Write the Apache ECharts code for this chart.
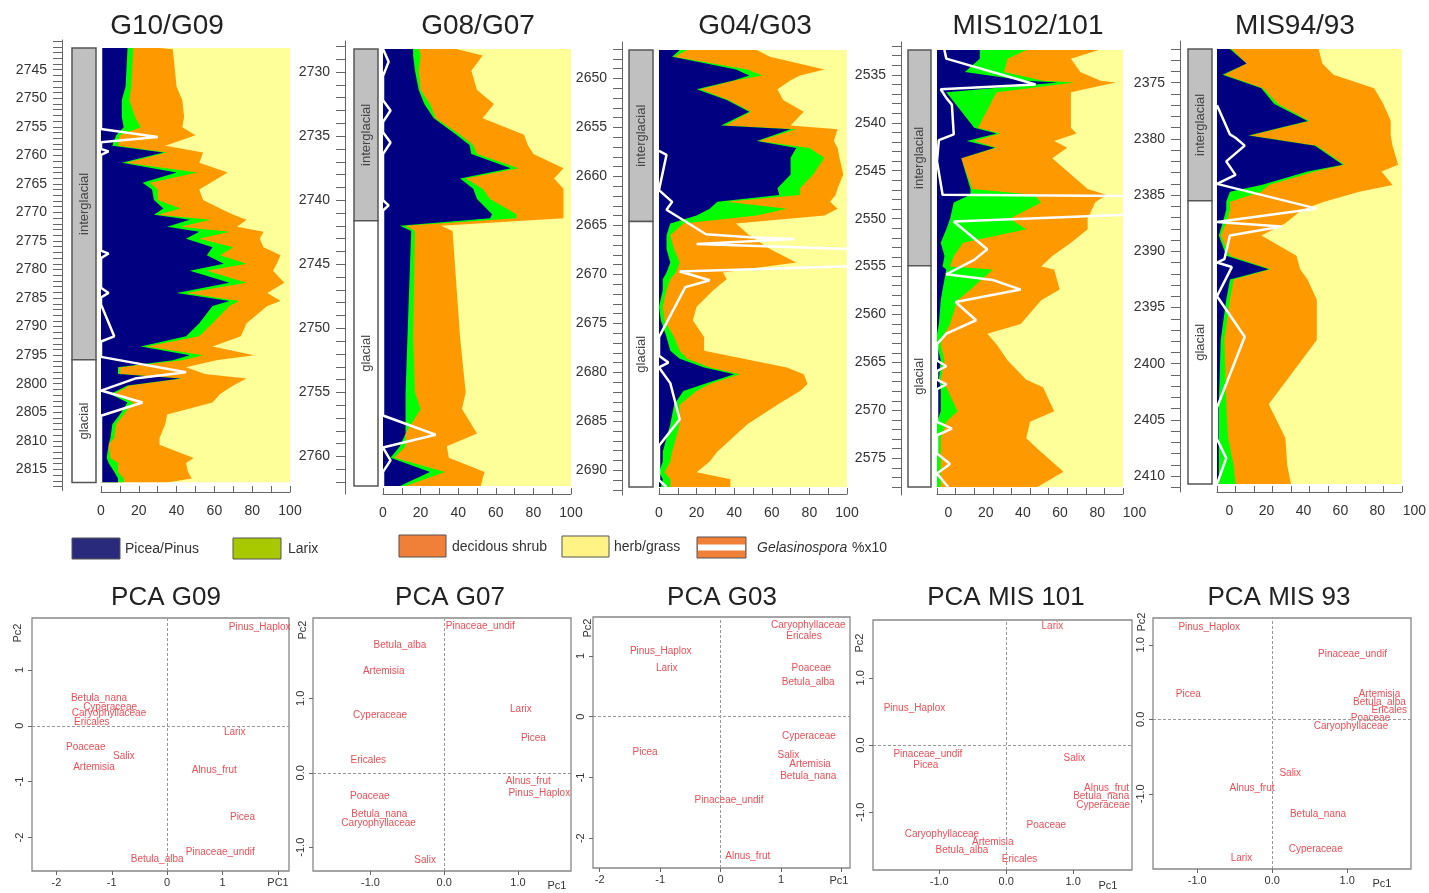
<!DOCTYPE html>
<html>
<head>
<meta charset="utf-8">
<title>Pollen diagrams and PCA</title>
<script src="https://cdn.jsdelivr.net/npm/echarts@6.0.0/dist/echarts.min.js"></script>
<style>
  html, body { margin: 0; padding: 0; background: #fff; }
  #main { width: 1429px; height: 893px; }
</style>
</head>
<body>
<div id="main"></div>
<script>
// stacked edges: Picea/Pinus, +Larix, +decidous shrub (cumulative %)
const g09Depth = [2741.2, 2741.4, 2748.0, 2750.3, 2753.3, 2755.1, 2756.5, 2758.3, 2759.5, 2761.3, 2763.0, 2764.8, 2766.0, 2767.8, 2769.3, 2770.4, 2771.3, 2772.5, 2773.4, 2774.6, 2776.1, 2777.5, 2779.0, 2780.2, 2782.3, 2784.1, 2785.5, 2786.4, 2789.4, 2791.7, 2793.5, 2795.0, 2795.9, 2797.1, 2798.3, 2799.1, 2800.3, 2801.8, 2803.3, 2805.4, 2807.1, 2809.5, 2810.7, 2813.0, 2813.9, 2815.4, 2816.6, 2817.3]
const g09Picea = [14, 14, 13, 11, 11, 12, 8, 6, 33, 11, 40, 22, 27, 28, 33, 28, 47, 35, 52, 45, 59, 56, 65, 47, 68, 40, 68, 59, 52, 45, 21, 47, 38, 9, 9, 42, 14, 5, 14, 10, 6, 5, 4, 3, 4, 7, 9, 9]
const g09Larix = [17, 17, 16, 15, 18, 21, 10, 9, 35, 13, 51, 26, 30, 30, 42, 30, 58, 42, 68, 52, 70, 63, 77, 56, 77, 45, 73, 68, 59, 52, 24, 54, 43, 10, 10, 43, 15, 7, 17, 12, 8, 7, 4, 5, 9, 9, 12, 12]
const g09Shrub = [31, 38, 40, 43, 44, 43, 50, 34, 54, 52, 67, 58, 52, 54, 63, 70, 77, 72, 86, 84, 86, 95, 93, 91, 97, 88, 95, 88, 77, 74, 59, 81, 61, 45, 55, 77, 70, 63, 59, 35, 34, 31, 31, 49, 45, 46, 48, 35]
const g09GelDepth = [2741.2, 2755.4, 2756.8, 2757.7, 2758.9, 2759.3, 2759.9, 2776.7, 2777.2, 2778.0, 2783.2, 2784.1, 2784.9, 2786.1, 2791.7, 2792.6, 2795.3, 2798.0, 2799.1, 2801.2, 2803.3, 2805.6, 2817.3]
const g09Gel = [0, 0, 30, 0, 0, 4, 0, 0, 4, 0, 0, 4, 0, 0, 7, 0, 0, 45, 18, 0, 22, 0, 0]
const g09Boundary = 2795.8
const g09Labels = [2745, 2750, 2755, 2760, 2765, 2770, 2775, 2780, 2785, 2790, 2795, 2800, 2805, 2810, 2815]

const g07Depth = [2728.2, 2728.7, 2729.9, 2731.4, 2732.5, 2733.6, 2734.9, 2735.7, 2736.4, 2737.5, 2738.3, 2739.1, 2739.9, 2741.1, 2741.4, 2742.0, 2742.4, 2750.7, 2755.0, 2756.3, 2758.2, 2759.2, 2760.1, 2761.2, 2762.3]
const g07Picea = [16, 16, 17, 19, 22, 27, 39, 46, 47, 68, 41, 48, 50, 58, 57, 9, 15, 13, 12, 12, 12, 9, 4, 25, 9]
const g07Larix = [19, 20, 19, 20, 25, 28, 41, 48, 50, 72, 44, 53, 57, 71, 71, 12, 17, 16, 17, 20, 12, 12, 6, 33, 12]
const g07Shrub = [39, 53, 47, 50, 59, 53, 75, 77, 80, 96, 91, 96, 96, 96, 96, 31, 37, 41, 44, 42, 50, 34, 35, 54, 52]
const g07GelDepth = [2728.2, 2729.2, 2730.3, 2732.2, 2733.0, 2733.9, 2734.7, 2735.5, 2736.4, 2740.0, 2740.4, 2740.8, 2756.8, 2758.3, 2759.3, 2760.3, 2761.2, 2762.3]
const g07Gel = [0, 3, 0, 0, 4, 0, 0, 4, 0, 0, 3, 0, 0, 28, 0, 4, 0, 0]
const g07Boundary = 2741.6
const g07Labels = [2730, 2735, 2740, 2745, 2750, 2755, 2760]

const g03Depth = [2647.1, 2647.8, 2649.1, 2649.7, 2650.2, 2651.1, 2652.2, 2653.4, 2654.8, 2655.2, 2656.4, 2657.1, 2658.1, 2659.8, 2661.2, 2661.9, 2662.6, 2663.3, 2664.0, 2664.8, 2666.0, 2667.4, 2668.8, 2669.8, 2670.5, 2671.6, 2673.3, 2674.7, 2676.4, 2677.8, 2678.6, 2679.5, 2680.2, 2681.2, 2681.9, 2683.3, 2685.3, 2688.1, 2689.1, 2690.2, 2690.9, 2691.7]
const g03Picea = [11, 7, 41, 48, 40, 20, 36, 48, 33, 70, 52, 73, 70, 70, 63, 64, 31, 27, 20, 6, 4, 4, 6, 4, 2, 2, 0, 1, 4, 6, 11, 24, 40, 24, 13, 8, 6, 2, 2, 0, 2, 1]
const g03Larix = [15, 8, 47, 55, 41, 22, 37, 49, 35, 73, 53, 80, 88, 82, 75, 75, 36, 68, 52, 13, 6, 8, 11, 9, 6, 4, 2, 3, 8, 11, 15, 27, 43, 27, 20, 11, 11, 7, 6, 3, 6, 6]
const g03Shrub = [52, 59, 88, 75, 70, 63, 66, 77, 70, 95, 93, 95, 96, 98, 95, 94, 91, 95, 88, 41, 48, 59, 73, 34, 36, 29, 20, 18, 24, 24, 45, 68, 77, 79, 75, 63, 47, 31, 27, 20, 38, 38]
const g03GelDepth = [2657.4, 2657.8, 2661.4, 2662.6, 2663.4, 2665.9, 2666.2, 2666.4, 2666.9, 2667.6, 2669.0, 2669.7, 2670.6, 2671.3, 2676.4, 2678.3, 2679.0, 2679.5, 2681.1, 2684.8, 2687.5, 2691.0, 2691.7]
const g03Gel = [0, 4, 0, 7, 4, 25, 48, 72, 20, 130, 130, 11, 27, 14, 0, 0, 5, 0, 6, 11, 0, 0, 4]
const g03Boundary = 2664.6
const g03Labels = [2650, 2655, 2660, 2665, 2670, 2675, 2680, 2685, 2690]

const m101Depth = [2532.4, 2533.3, 2534.7, 2535.6, 2535.8, 2536.8, 2540.5, 2541.1, 2541.9, 2542.6, 2543.7, 2546.9, 2547.5, 2548.3, 2550.0, 2551.1, 2552.5, 2553.9, 2555.0, 2555.3, 2557.4, 2558.5, 2561.0, 2562.0, 2563.1, 2564.8, 2566.8, 2567.6, 2570.1, 2571.2, 2572.9, 2574.0, 2576.4, 2578.0]
const m101Picea = [23, 23, 15, 48, 65, 5, 20, 32, 16, 31, 13, 18, 18, 9, 7, 5, 2, 4, 3, 5, 3, 2, 1, 0, 0, 2, 1, 2, 2, 0, 0, 0, 0, 0]
const m101Larix = [48, 38, 36, 57, 74, 32, 22, 34, 20, 32, 13, 19, 52, 56, 39, 48, 14, 9, 7, 30, 18, 11, 7, 4, 2, 4, 2, 5, 11, 5, 2, 2, 2, 2]
const m101Shrub = [87, 72, 77, 88, 96, 72, 72, 75, 63, 70, 62, 81, 91, 85, 81, 81, 72, 62, 56, 63, 66, 56, 45, 27, 32, 38, 48, 57, 63, 50, 48, 54, 68, 54]
const m101GelDepth = [2532.4, 2533.3, 2536.0, 2536.5, 2537.4, 2538.1, 2541.2, 2541.8, 2544.0, 2547.5, 2547.7, 2549.2, 2550.3, 2553.2, 2554.3, 2555.8, 2556.4, 2557.4, 2558.7, 2560.6, 2562.0, 2563.1, 2564.8, 2565.4, 2565.9, 2566.8, 2567.3, 2567.8, 2571.2, 2571.9, 2572.6, 2574.5, 2575.6, 2576.6, 2578.0]
const m101Gel = [4, 5, 53, 2, 5, 8, 9, 1, 0, 3, 150, 150, 9, 27, 20, 5, 30, 45, 10, 21, 5, 0, 0, 5, 0, 0, 5, 0, 0, 8, 0, 0, 7, 0, 6]
const m101Boundary = 2554.9
const m101Labels = [2535, 2540, 2545, 2550, 2555, 2560, 2565, 2570, 2575]

const m93Depth = [2372.0, 2373.3, 2374.3, 2375.5, 2376.9, 2378.4, 2379.7, 2380.6, 2382.3, 2382.9, 2384.1, 2384.7, 2385.6, 2386.3, 2387.5, 2388.6, 2390.4, 2391.6, 2392.5, 2394.3, 2397.9, 2403.6, 2406.6, 2409.0, 2410.7]
const m93Picea = [7, 16, 3, 24, 31, 49, 17, 53, 68, 49, 24, 7, 5, 5, 3, 1, 5, 28, 7, 5, 2, 1, 1, 1, 1]
const m93Larix = [8, 16, 4, 25, 33, 50, 18, 54, 69, 53, 28, 24, 7, 7, 5, 2, 7, 29, 9, 7, 4, 5, 6, 9, 10]
const m93Shrub = [55, 57, 63, 85, 90, 94, 94, 95, 98, 89, 95, 77, 58, 46, 37, 24, 43, 45, 49, 54, 54, 28, 37, 38, 40]
const m93GelDepth = [2377.0, 2379.6, 2379.9, 2380.6, 2382.0, 2383.2, 2384.0, 2386.2, 2387.4, 2387.8, 2388.6, 2390.7, 2391.0, 2391.4, 2394.0, 2397.6, 2403.9, 2406.7, 2408.4, 2410.7]
const m93Gel = [0, 7, 10, 15, 5, 10, 0, 54, 0, 35, 7, 4, 0, 8, 0, 15, 0, 0, 5, 0]
const m93Boundary = 2385.5
const m93Labels = [2375, 2380, 2385, 2390, 2395, 2400, 2405, 2410]

const pctTicks = [0, 10, 20, 30, 40, 50, 60, 70, 80, 90, 100]
const pctLabels = [0, 20, 40, 60, 80, 100]
const zoneNames = ['interglacial', 'glacial']

// PCA scores: taxon, PC1, PC2
const pcaG09 = [['Pinus_Haplox', 1.67, 1.77], ['Betula_nana', -1.23, 0.50], ['Cyperaceae', -1.03, 0.34], ['Caryophyllaceae', -1.05, 0.23], ['Ericales', -1.36, 0.07], ['Poaceae', -1.47, -0.38], ['Salix', -0.78, -0.54], ['Artemisia', -1.32, -0.75], ['Larix', 1.22, -0.12], ['Alnus_frut', 0.85, -0.79], ['Picea', 1.36, -1.64], ['Pinaceae_undif', 0.96, -2.26], ['Betula_alba', -0.18, -2.39]]
const pcaG07 = [['Pinaceae_undif', 0.49, 1.97], ['Betula_alba', -0.60, 1.72], ['Artemisia', -0.82, 1.36], ['Cyperaceae', -0.87, 0.77], ['Ericales', -1.03, 0.17], ['Poaceae', -1.01, -0.32], ['Betula_nana', -0.88, -0.56], ['Caryophyllaceae', -0.89, -0.68], ['Salix', -0.26, -1.18], ['Larix', 1.04, 0.85], ['Picea', 1.21, 0.47], ['Alnus_frut', 1.14, -0.11], ['Pinus_Haplox', 1.29, -0.27]]
const pcaG03 = [['Caryophyllaceae', 1.45, 1.51], ['Ericales', 1.38, 1.32], ['Pinus_Haplox', -0.99, 1.07], ['Larix', -0.89, 0.80], ['Poaceae', 1.50, 0.79], ['Betula_alba', 1.45, 0.56], ['Cyperaceae', 1.46, -0.33], ['Picea', -1.25, -0.58], ['Salix', 1.12, -0.64], ['Artemisia', 1.48, -0.78], ['Betula_nana', 1.45, -0.98], ['Pinaceae_undif', 0.14, -1.38], ['Alnus_frut', 0.45, -2.30]]
const pcaM101 = [['Larix', 0.69, 1.76], ['Pinus_Haplox', -1.37, 0.55], ['Pinaceae_undif', -1.17, -0.14], ['Picea', -1.20, -0.30], ['Salix', 1.02, -0.20], ['Alnus_frut', 1.50, -0.64], ['Betula_nana', 1.42, -0.77], ['Cyperaceae', 1.45, -0.90], ['Poaceae', 0.60, -1.20], ['Caryophyllaceae', -0.96, -1.33], ['Artemisia', -0.20, -1.44], ['Betula_alba', -0.66, -1.56], ['Ericales', 0.20, -1.70]]
const pcaM93 = [['Pinus_Haplox', -0.84, 1.24], ['Pinaceae_undif', 1.07, 0.87], ['Picea', -1.12, 0.34], ['Artemisia', 1.43, 0.34], ['Betula_alba', 1.43, 0.23], ['Ericales', 1.56, 0.12], ['Poaceae', 1.31, 0.02], ['Caryophyllaceae', 1.05, -0.09], ['Salix', 0.24, -0.73], ['Alnus_frut', -0.27, -0.92], ['Betula_nana', 0.61, -1.27], ['Cyperaceae', 0.58, -1.75], ['Larix', -0.41, -1.86]]

const FONT = '"Liberation Sans", Arial, Helvetica, sans-serif'
const COL = { picea: '#000080', larix: '#00ff00', shrub: '#ff9900', herb: '#ffff99' }

// layout of the five diagrams (pixels)
const diagrams = [
  { title: 'G10/G09', depth: g09Depth, picea: g09Picea, larix: g09Larix, shrub: g09Shrub, gelDepth: g09GelDepth, gel: g09Gel, boundary: g09Boundary, labels: g09Labels,
    axisX: 62, zoneL: 72, zoneR: 96, left: 101, right: 290, top: 48, bottom: 482.5, axisY: 492, titleX: 167, shift: 0 },
  { title: 'G08/G07', depth: g07Depth, picea: g07Picea, larix: g07Larix, shrub: g07Shrub, gelDepth: g07GelDepth, gel: g07Gel, boundary: g07Boundary, labels: g07Labels,
    axisX: 345, zoneL: 354, zoneR: 378, left: 383, right: 571, top: 49, bottom: 486, axisY: 494, titleX: 478, shift: 0 },
  { title: 'G04/G03', depth: g03Depth, picea: g03Picea, larix: g03Larix, shrub: g03Shrub, gelDepth: g03GelDepth, gel: g03Gel, boundary: g03Boundary, labels: g03Labels,
    axisX: 622, zoneL: 629, zoneR: 653, left: 659, right: 847, top: 50, bottom: 487, axisY: 494, titleX: 755, shift: 0 },
  { title: 'MIS102/101', depth: m101Depth, picea: m101Picea, larix: m101Larix, shrub: m101Shrub, gelDepth: m101GelDepth, gel: m101Gel, boundary: m101Boundary, labels: m101Labels,
    axisX: 901, zoneL: 908, zoneR: 931, left: 937, right: 1123, top: 50, bottom: 487, axisY: 494, titleX: 1028, shift: 23 },
  { title: 'MIS94/93', depth: m93Depth, picea: m93Picea, larix: m93Larix, shrub: m93Shrub, gelDepth: m93GelDepth, gel: m93Gel, boundary: m93Boundary, labels: m93Labels,
    axisX: 1180, zoneL: 1188, zoneR: 1212, left: 1217, right: 1406, top: 49, bottom: 484, axisY: 492, titleX: 1295, shift: 25 }
]

const pcas = [
  { title: 'PCA G09', data: pcaG09, titleX: 166, left: 32, right: 289, top: 618, bottom: 871, x: [-2.44, 2.20], y: [-2.60, 1.93],
    xLab: [-2, -1, 0, 1], xTick: [-2, -1, 0, 1, 2], yLab: [-2, -1, 0, 1], dec: 0, pc1: [278, 883, 'PC1'], pc2: [18, 633] },
  { title: 'PCA G07', data: pcaG07, titleX: 450, left: 313, right: 571, top: 618, bottom: 871, x: [-1.78, 1.72], y: [-1.32, 2.08],
    xLab: [-1, 0, 1], yLab: [-1, 0, 1], dec: 1, pc1: [557, 886, 'Pc1'], pc2: [303, 630] },
  { title: 'PCA G03', data: pcaG03, titleX: 722, left: 593, right: 850, top: 617, bottom: 868, x: [-2.11, 2.14], y: [-2.49, 1.64],
    xLab: [-2, -1, 0, 1], xTick: [-2, -1, 0, 1, 2], yLab: [-2, -1, 0, 1], dec: 0, pc1: [839, 881, 'Pc1'], pc2: [588, 628] },
  { title: 'PCA MIS 101', data: pcaM101, titleX: 1006, left: 873, right: 1132, top: 620, bottom: 870, x: [-1.99, 1.88], y: [-1.86, 1.86],
    xLab: [-1, 0, 1], yLab: [-1, 0, 1], dec: 1, pc1: [1108, 886, 'Pc1'], pc2: [860, 643] },
  { title: 'PCA MIS 93', data: pcaM93, titleX: 1279, left: 1153, right: 1411, top: 618, bottom: 869, x: [-1.59, 1.85], y: [-2.01, 1.36],
    xLab: [-1, 0, 1], yLab: [-1, 0, 1], dec: 1, pc1: [1382, 884, 'Pc1'], pc2: [1142, 622] }
]

const grid = [], xAxis = [], yAxis = [], series = [], graphic = []

function addGrid(rect, xa, ya) {
  const gi = grid.length
  grid.push(rect)
  xAxis.push(Object.assign({ gridIndex: gi, type: 'value' }, xa))
  yAxis.push(Object.assign({ gridIndex: gi, type: 'value' }, ya))
  return gi
}

// one filled polygon from x=0 to the given edge, drawn through the axes
function band(gi, depth, edge, color, z) {
  const rows = depth.map((d, i) => [edge ? edge[i] : 100, d])
  return {
    type: 'custom', xAxisIndex: gi, yAxisIndex: gi, silent: true, clip: true, z: z,
    data: rows,
    renderItem(params, api) {
      if (params.dataIndex !== 0) return null
      const pts = [api.coord([0, rows[0][1]])]
      rows.forEach(r => pts.push(api.coord(r)))
      pts.push(api.coord([0, rows[rows.length - 1][1]]))
      return { type: 'polygon', shape: { points: pts }, style: { fill: color } }
    }
  }
}

function text(x, y, str, size, opts) {
  graphic.push(Object.assign({
    type: 'text', x: x, y: y, silent: true,
    style: Object.assign({ text: str, font: size + 'px ' + FONT, fill: '#333', align: 'center', verticalAlign: 'middle' }, (opts && opts.style) || {})
  }, (opts && opts.el) || {}))
}

diagrams.forEach(p => {
  const d0 = p.depth[0], d1 = p.depth[p.depth.length - 1]
  const h = p.bottom - p.top
  const ppu = h / (d1 - d0)
  const ext = 8
  const dMin = d0 - ext / ppu, dMax = d1 + ext / ppu
  const ticks = []
  for (let d = Math.ceil(dMin); d <= dMax; d++) ticks.push(d)

  // depth axis
  addGrid({ left: p.axisX, top: p.top - ext, width: 1, height: h + 2 * ext },
    { show: false, min: 0, max: 1 },
    { inverse: true, min: dMin, max: dMax,
      axisLine: { show: true, onZero: false, lineStyle: { color: '#666', width: 1 } },
      axisTick: { show: true, length: 9, customValues: ticks, lineStyle: { color: '#666' } },
      axisLabel: { customValues: p.labels, formatter: v => String(v), margin: 15, fontSize: 14, color: '#333', fontFamily: FONT },
      splitLine: { show: false } })

  // zone column
  const zg = addGrid({ left: p.zoneL, top: p.top, width: p.zoneR - p.zoneL, height: h },
    { show: false, min: 0, max: 1 },
    { show: false, inverse: true, min: d0, max: d1 })
  series.push({
    type: 'custom', xAxisIndex: zg, yAxisIndex: zg, silent: true,
    data: [[d0, p.boundary], [p.boundary, d1]],
    renderItem(params, api) {
      const a = api.coord([0, api.value(0)]), b = api.coord([1, api.value(1)])
      const glacial = params.dataIndex === 1
      return { type: 'group', children: [
        { type: 'rect', shape: { x: a[0], y: a[1], width: b[0] - a[0], height: b[1] - a[1] },
          style: { fill: glacial ? '#ffffff' : '#c0c0c0', stroke: '#555', lineWidth: 1.5 } },
        { type: 'text', x: (a[0] + b[0]) / 2, y: (a[1] + b[1]) / 2, rotation: Math.PI / 2,
          style: { text: zoneNames[params.dataIndex], font: '13px ' + FONT, fill: '#444', align: 'center', verticalAlign: 'middle' } }
      ] }
    }
  })

  // stacked plot
  const pg = addGrid({ left: p.left, top: p.top, width: p.right - p.left, height: h },
    { min: 0, max: 100, offset: p.axisY - p.bottom,
      axisLine: { show: true, onZero: false, lineStyle: { color: '#666' } },
      axisTick: { show: true, inside: true, length: 6, customValues: pctTicks, lineStyle: { color: '#666' } },
      axisLabel: { customValues: pctLabels, margin: 12, fontSize: 14, color: '#333', fontFamily: FONT, padding: [0, 0, 0, p.shift] },
      splitLine: { show: false } },
    { show: false, inverse: true, min: d0, max: d1 })
  series.push(band(pg, p.depth, null, COL.herb, 1))
  series.push(band(pg, p.depth, p.shrub, COL.shrub, 2))
  series.push(band(pg, p.depth, p.larix, COL.larix, 3))
  series.push(band(pg, p.depth, p.picea, COL.picea, 4))
  series.push({
    type: 'line', xAxisIndex: pg, yAxisIndex: pg, z: 6, silent: true, symbol: 'none', clip: true,
    data: p.gelDepth.map((d, i) => [p.gel[i], d]),
    lineStyle: { color: '#ffffff', width: 2.5 }
  })

  text(p.titleX, 26, p.title, 28, { style: { fill: '#222' } })
})

// legend
const legendItems = [
  { label: 'Picea/Pinus', color: '#2a2a7c', x: 72, y: 538, w: 48, h: 21, tx: 125 },
  { label: 'Larix', color: '#a8c800', x: 233, y: 538, w: 48, h: 21, tx: 288 },
  { label: 'decidous shrub', color: '#f07f38', x: 399, y: 535, w: 47, h: 22, tx: 452 },
  { label: 'herb/grass', color: '#fff385', x: 562, y: 536, w: 47, h: 21, tx: 614 }
]
legendItems.forEach(it => {
  graphic.push({ type: 'rect', silent: true, shape: { x: it.x, y: it.y, width: it.w, height: it.h }, style: { fill: it.color, stroke: '#555', lineWidth: 1 } })
  text(it.tx, it.y + it.h / 2 + 1, it.label, 14, { style: { align: 'left' } })
})
graphic.push({ type: 'rect', silent: true, shape: { x: 697, y: 537, width: 49, height: 21 }, style: { fill: '#f07f38', stroke: '#555', lineWidth: 1 } })
graphic.push({ type: 'rect', silent: true, shape: { x: 698, y: 544.5, width: 47, height: 6 }, style: { fill: '#ffffff' } })
text(757, 548, 'Gelasinospora', 14, { style: { align: 'left', font: 'italic 14px ' + FONT } })
text(852, 548, '%x10', 14, { style: { align: 'left' } })

// PCA panels
pcas.forEach(c => {
  const fmt = v => c.dec ? Number(v).toFixed(1) : String(v)
  const gi = addGrid({ left: c.left, top: c.top, width: c.right - c.left, height: c.bottom - c.top, show: true, borderColor: '#888', borderWidth: 1.3 },
    { min: c.x[0], max: c.x[1],
      axisLine: { show: false, onZero: false },
      axisTick: { show: true, length: 4, customValues: c.xTick || c.xLab, lineStyle: { color: '#666' } },
      axisLabel: { customValues: c.xLab, formatter: fmt, margin: 6, fontSize: 11, color: '#333', fontFamily: FONT },
      splitLine: { show: false } },
    { min: c.y[0], max: c.y[1],
      axisLine: { show: false, onZero: false },
      axisTick: { show: true, length: 4, customValues: c.yLab, lineStyle: { color: '#666' } },
      axisLabel: { customValues: c.yLab, formatter: fmt, rotate: 90, margin: 7, fontSize: 11, color: '#333', fontFamily: FONT },
      splitLine: { show: false } })
  series.push({
    type: 'scatter', xAxisIndex: gi, yAxisIndex: gi, silent: true, symbolSize: 1,
    itemStyle: { color: 'rgba(0,0,0,0)' },
    data: c.data.map(t => ({ name: t[0], value: [t[1], t[2]] })),
    label: { show: true, position: 'inside', formatter: '{b}', color: '#e8202a', fontSize: 10, fontFamily: FONT },
    markLine: { silent: true, symbol: ['none', 'none'], label: { show: false },
      lineStyle: { type: [3, 2], color: '#999', width: 1 },
      data: [{ xAxis: 0 }, { yAxis: 0 }] }
  })
  text(c.titleX, 598, c.title, 26, { style: { fill: '#222' } })
  text(c.pc1[0], c.pc1[1], c.pc1[2], 11)
  text(c.pc2[0], c.pc2[1], 'Pc2', 11, { el: { rotation: Math.PI / 2 } })
})

const chart = echarts.init(document.getElementById('main'))
chart.setOption({
  animation: false,
  backgroundColor: '#ffffff',
  grid: grid,
  xAxis: xAxis,
  yAxis: yAxis,
  series: series,
  graphic: graphic
})
</script>
</body>
</html>
